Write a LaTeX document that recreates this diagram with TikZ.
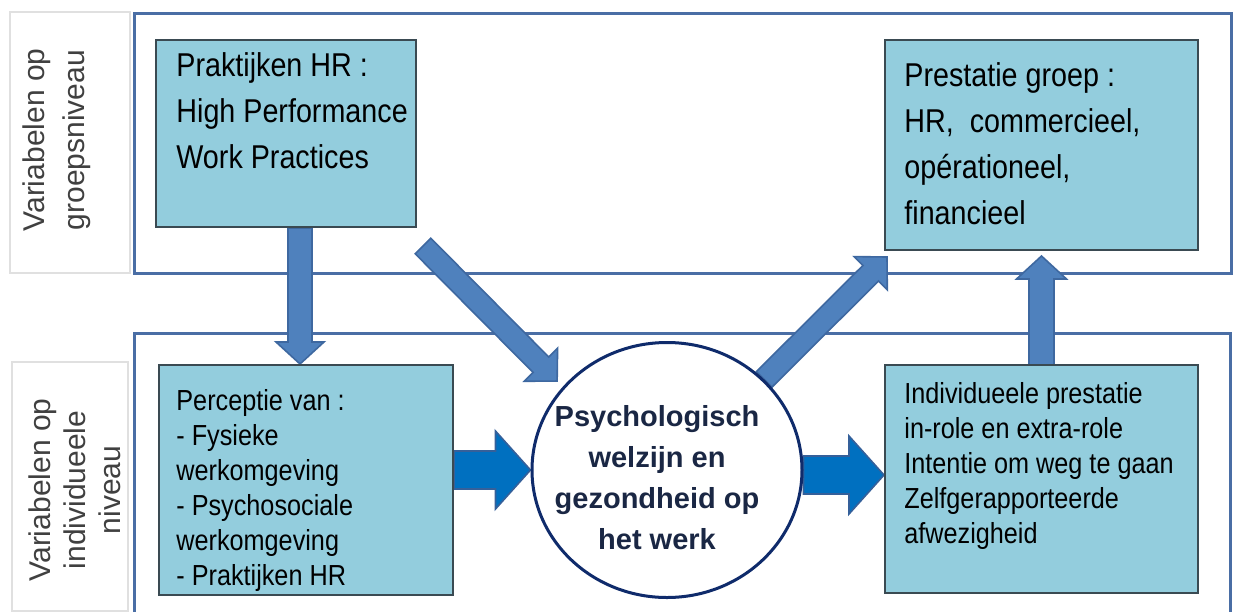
\documentclass[tikz,border=0pt]{standalone}
\usepackage{fontspec}
\setmainfont{Liberation Sans}
\newfontfamily\narrowfont{Liberation Sans}[FakeStretch=0.87]
\usepackage{xcolor}
\definecolor{framecol}{HTML}{4A6EA5}
\definecolor{boxfill}{HTML}{93CDDD}
\definecolor{boxline}{HTML}{3A4A52}
\definecolor{arrowfill}{HTML}{4F81BD}
\definecolor{arrowline}{HTML}{3E68A0}
\definecolor{flowfill}{HTML}{0070C0}
\definecolor{flowline}{HTML}{35609A}
\definecolor{ringcol}{HTML}{0F2B6B}
\definecolor{labelgray}{HTML}{404040}
\definecolor{textnavy}{HTML}{1A2744}
\usetikzlibrary{calc,positioning,shapes.geometric}

\pgfdeclarelayer{back}
\pgfdeclarelayer{mid}
\pgfsetlayers{back,mid,main}

% block arrow: [style]{from}{to}{half shaft}{half head}{head length}
\newcommand{\blockarrow}[6][]{%
  \path ($(#3)!#6!(#2)$) coordinate (ahbase);
  \draw[#1] ($(#2)!#4!90:(#3)$) -- ($(ahbase)!#4!90:(#3)$)
    -- ($(ahbase)!#5!90:(#3)$) -- (#3) -- ($(ahbase)!#5!-90:(#3)$)
    -- ($(ahbase)!#4!-90:(#3)$) -- ($(#2)!#4!-90:(#3)$) -- cycle;}

\begin{document}
\begin{tikzpicture}[
    x=0.5pt, y=-0.5pt,
    % --- frames and side labels ---
    frame/.style={draw=framecol, line width=1.5pt},
    sidebox/.style={draw=black!12, fill=white, line width=0.6pt, inner sep=0},
    sidetext/.style={text=labelgray, align=center, inner sep=0, rotate=90},
    % --- content boxes ---
    hrbox/.style={draw=boxline, fill=boxfill, line width=1pt, inner sep=0},
    toptext/.style={anchor=north west, inner sep=0, align=left,
        font=\narrowfont\fontsize{16.5}{23}\selectfont},
    lowtext/.style={anchor=north west, inner sep=0, align=left,
        font=\narrowfont\fontsize{14.5}{17.5}\selectfont},
    ring/.style={ellipse, draw=ringcol, line width=1.5pt, fill=white,
        inner sep=0, minimum width=135pt, minimum height=127.5pt},
    ringtext/.style={align=center, inner sep=0, text=textnavy,
        font=\bfseries\fontsize{14.5}{20.5}\selectfont,
        xshift=-5pt, yshift=-4pt},
    % --- block arrows ---
    fatarrow/.style={fill=arrowfill, draw=arrowline, line width=0.8pt},
    flowarrow/.style={fill=flowfill, draw=flowline, line width=0.8pt}
]
\useasboundingbox (0,0) rectangle (1233,612);

% ===== level frames =====
\begin{pgfonlayer}{back}
  \draw[frame] (134,13) rectangle (1231,273);
  \draw[frame] (134,612) -- (134,333) -- (1230,333) -- (1230,612);
\end{pgfonlayer}

% ===== side labels =====
\node[sidebox, minimum width=60pt, minimum height=130.5pt] (grpbox) at (70,142.5) {};
\node[sidetext, font=\fontsize{15}{20}\selectfont] (grplabel) at (57,140)
    {Variabelen op\\groepsniveau};

\node[sidebox, minimum width=58pt, minimum height=124.5pt] (indbox) at (70,486.5) {};
\node[sidetext, font=\fontsize{15}{17.5}\selectfont] (indlabel) at (75,490)
    {Variabelen op\\individueele\\niveau};

% ===== group level =====
\node[hrbox, minimum width=130pt, minimum height=93.5pt] (praktijk) at (286,133.5) {};
\node[toptext, below right=6.5pt and 10.5pt of praktijk.north west] (praktijk-txt)
    {Praktijken HR :\\High Performance\\Work Practices};

\node[hrbox, minimum width=156.5pt, minimum height=105pt] (prestatie) at (1041.5,145) {};
\node[toptext, below right=11.5pt and 10pt of prestatie.north west] (prestatie-txt)
    {Prestatie groep :\\HR,\ \ commercieel,\\op\'erationeel,\\financieel};

% ===== individual level =====
\node[hrbox, minimum width=147pt, minimum height=115pt] (perceptie) at (306,480) {};
\node[lowtext, below right=12.5pt and 9pt of perceptie.north west] (perceptie-txt)
    {Perceptie van :\\- Fysieke\\werkomgeving\\- Psychosociale\\werkomgeving\\- Praktijken HR};

\node[hrbox, minimum width=156.5pt, minimum height=114pt] (individ) at (1041.5,479) {};
\node[lowtext, below right=9pt and 10pt of individ.north west] (individ-txt)
    {Individueele prestatie\\in-role en extra-role\\Intentie om weg te gaan\\Zelfgerapporteerde\\afwezigheid};

\node[ring, label={[ringtext]center:{Psychologisch\\welzijn en\\gezondheid op\\het werk}}]
    (welzijn) at (667,470) {};

% ===== arrow ends =====
\coordinate (pk-down) at ([xshift=7pt]praktijk.south);
\coordinate (pc-in) at (pk-down |- perceptie.north);
\coordinate (pk-diag) at ([xshift=3pt,yshift=-9pt]praktijk.south east);
\coordinate (wz-in) at ($(welzijn.center)!1.06!(welzijn.141)$);
\coordinate (wz-out) at (welzijn.43);
\coordinate (ps-diag) at ([xshift=1.5pt,yshift=-3pt]prestatie.south west);
\coordinate (ind-up) at ([yshift=-1.5pt]individ.north);
\coordinate (ps-in) at ([yshift=-2.5pt]prestatie.south);
\coordinate (pc-out) at ([yshift=5pt]perceptie.east);
\coordinate (wz-left) at (pc-out -| welzijn.west);
\coordinate (wz-right) at ([yshift=-2.5pt]welzijn.east);
\coordinate (ind-in) at (wz-right -| individ.west);

% ===== arrows =====
\begin{pgfonlayer}{mid}
  \blockarrow[fatarrow]{pk-down}{pc-in}{6pt}{12pt}{11pt}
  \blockarrow[fatarrow]{pk-diag}{wz-in}{5.5pt}{11.75pt}{11.5pt}
  \blockarrow[fatarrow]{wz-out}{ps-diag}{5.5pt}{11.75pt}{11.5pt}
  \blockarrow[fatarrow]{ind-up}{ps-in}{6.25pt}{12.5pt}{11.5pt}
  \blockarrow[flowarrow]{pc-out}{wz-left}{9.5pt}{19.5pt}{17.5pt}
  \blockarrow[flowarrow]{wz-right}{ind-in}{9.5pt}{19.5pt}{17.5pt}
\end{pgfonlayer}

\end{tikzpicture}
\end{document}
